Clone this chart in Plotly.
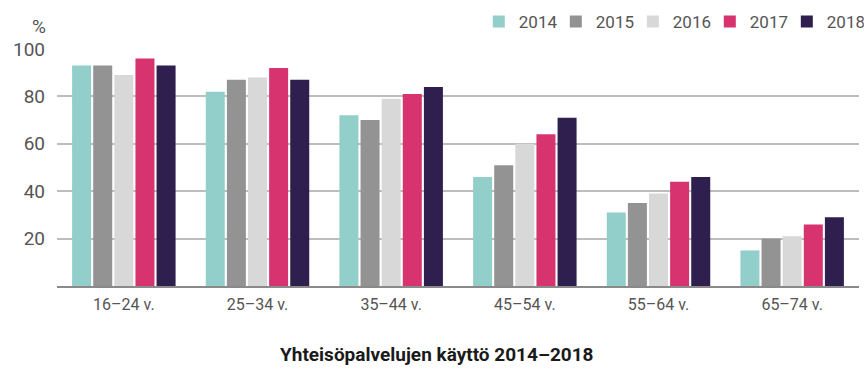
import plotly.graph_objects as go

# Age groups and yearly usage shares (%)
age_groups = ["16–24 v.", "25–34 v.", "35–44 v.", "45–54 v.", "55–64 v.", "65–74 v."]
years = ["2014", "2015", "2016", "2017", "2018"]
usage_2014 = [93, 82, 72, 46, 31, 15]
usage_2015 = [93, 87, 70, 51, 35, 20]
usage_2016 = [89, 88, 79, 60, 39, 21]
usage_2017 = [96, 92, 81, 64, 44, 26]
usage_2018 = [93, 87, 84, 71, 46, 29]
y_ticks = [20, 40, 60, 80, 100]

series = [usage_2014, usage_2015, usage_2016, usage_2017, usage_2018]
colors = ["#93cfca", "#939393", "#d8d8d8", "#d6336f", "#2f1f4f"]

fig = go.Figure()
for year, vals, col in zip(years, series, colors):
    fig.add_trace(go.Bar(
        x=age_groups, y=vals, name=year,
        marker=dict(color=col, line=dict(width=0)),
    ))

fig.update_layout(
    width=866, height=371,
    margin=dict(l=57, r=2, t=49, b=85),
    paper_bgcolor="white", plot_bgcolor="white",
    font=dict(family="Roboto", color="#555555"),
    barmode="group", bargap=0.21, bargroupgap=0.1,
    showlegend=True,
    legend=dict(
        orientation="h", x=1.006, xanchor="right", y=1.114, yanchor="middle",
        font=dict(size=17, color="#555555"), traceorder="normal",
        entrywidth=32, entrywidthmode="pixels",
        bgcolor="rgba(0,0,0,0)",
    ),
    xaxis=dict(
        showgrid=False, showline=True, linecolor="#8a8a8a", linewidth=2,
        tickfont=dict(size=16, color="#555555"), ticks="",
        ticklabelstandoff=3,
    ),
    yaxis=dict(
        range=[0, 100], tickvals=y_ticks, showgrid=True, gridcolor="#bdbdbd",
        gridwidth=1.5, zeroline=False, showline=False,
        tickfont=dict(size=19, color="#555555"), ticks="",
        ticklabelstandoff=11,
    ),
)

fig.add_annotation(
    text="%", xref="paper", yref="paper", x=-0.011, y=1.095,
    xanchor="right", yanchor="middle", showarrow=False,
    font=dict(size=19, color="#555555"),
)
fig.add_annotation(
    text="<b>Yhteisöpalvelujen käyttö 2014–2018</b>", xref="paper", yref="paper",
    x=0.474, y=-0.29, xanchor="center", yanchor="middle", showarrow=False,
    font=dict(size=19, color="#1a1a1a"),
)

fig.write_html("out.html")
